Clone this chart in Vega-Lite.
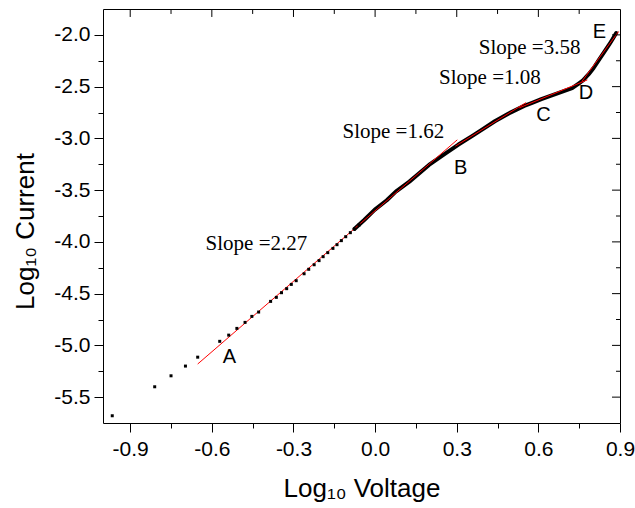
{
  "$schema": "https://vega.github.io/schema/vega-lite/v6.json",
  "width": 517,
  "height": 414,
  "autosize": {"type": "none"},
  "padding": {"left": 103, "top": 9, "right": 15, "bottom": 85},
  "background": "white",
  "config": {
    "view": {"stroke": "black", "strokeWidth": 1},
    "axis": {
      "domain": false,
      "grid": false,
      "labelFont": "Liberation Sans",
      "labelFontSize": 21,
      "labelColor": "black",
      "titleFont": "Liberation Sans",
      "titleFontSize": 26,
      "titleFontWeight": "normal",
      "titleColor": "black",
      "tickColor": "black",
      "tickWidth": 1
    }
  },
  "datasets": {
    "pts": [
      {"v": -0.966, "c": -5.680}, {"v": -0.810, "c": -5.400}, {"v": -0.750, "c": -5.294},
      {"v": -0.697, "c": -5.200}, {"v": -0.652, "c": -5.114}, {"v": -0.571, "c": -4.961},
      {"v": -0.538, "c": -4.901}, {"v": -0.508, "c": -4.836}, {"v": -0.478, "c": -4.778},
      {"v": -0.453, "c": -4.720}, {"v": -0.428, "c": -4.678}, {"v": -0.384, "c": -4.575},
      {"v": -0.363, "c": -4.536}, {"v": -0.344, "c": -4.491}, {"v": -0.325, "c": -4.452},
      {"v": -0.308, "c": -4.411}, {"v": -0.290, "c": -4.375}, {"v": -0.261, "c": -4.308},
      {"v": -0.244, "c": -4.265}, {"v": -0.224, "c": -4.221}, {"v": -0.206, "c": -4.181},
      {"v": -0.191, "c": -4.143}, {"v": -0.174, "c": -4.104}, {"v": -0.155, "c": -4.063},
      {"v": -0.140, "c": -4.027}, {"v": -0.124, "c": -3.988}, {"v": -0.108, "c": -3.950},
      {"v": -0.091, "c": -3.911}, {"v": -0.076, "c": -3.875}, {"v": -0.059, "c": -3.837}
    ],
    "curve": [
      {"v": -0.076, "c": -3.875},
      {"v": -0.040, "c": -3.789}, {"v": -0.002, "c": -3.691}, {"v": 0.043, "c": -3.598},
      {"v": 0.076, "c": -3.515}, {"v": 0.126, "c": -3.418}, {"v": 0.198, "c": -3.257},
      {"v": 0.259, "c": -3.145}, {"v": 0.305, "c": -3.062}, {"v": 0.356, "c": -2.978},
      {"v": 0.393, "c": -2.915}, {"v": 0.440, "c": -2.835}, {"v": 0.491, "c": -2.759},
      {"v": 0.548, "c": -2.686}, {"v": 0.577, "c": -2.657}, {"v": 0.611, "c": -2.621},
      {"v": 0.665, "c": -2.570}, {"v": 0.724, "c": -2.515}, {"v": 0.748, "c": -2.470},
      {"v": 0.764, "c": -2.440}, {"v": 0.785, "c": -2.380}, {"v": 0.803, "c": -2.320},
      {"v": 0.822, "c": -2.245}, {"v": 0.846, "c": -2.149}, {"v": 0.860, "c": -2.095},
      {"v": 0.873, "c": -2.040}, {"v": 0.886, "c": -1.982}
    ],
    "fits": [
      {"seg": "AB", "v": -0.652, "c": -5.180}, {"seg": "AB", "v": 0.302, "c": -3.014},
      {"seg": "BC", "v": 0.295, "c": -3.075}, {"seg": "BC", "v": 0.555, "c": -2.654},
      {"seg": "CD", "v": 0.530, "c": -2.705}, {"seg": "CD", "v": 0.780, "c": -2.435},
      {"seg": "DE", "v": 0.760, "c": -2.450}, {"seg": "DE", "v": 0.895, "c": -1.967}
    ],
    "slopes": [
      {"t": "Slope =2.27", "v": -0.623, "c": -4.077},
      {"t": "Slope =1.62", "v": -0.120, "c": -3.000},
      {"t": "Slope =1.08", "v": 0.235, "c": -2.475},
      {"t": "Slope =3.58", "v": 0.381, "c": -2.184}
    ],
    "letters": [
      {"t": "A", "v": -0.560, "c": -5.170},
      {"t": "B", "v": 0.290, "c": -3.343},
      {"t": "C", "v": 0.592, "c": -2.830},
      {"t": "D", "v": 0.748, "c": -2.624},
      {"t": "E", "v": 0.800, "c": -2.026}
    ],
    "xticks": [
      {"v": -0.9, "k": "major"}, {"v": -0.75, "k": "minor"}, {"v": -0.6, "k": "major"},
      {"v": -0.45, "k": "minor"}, {"v": -0.3, "k": "major"}, {"v": -0.15, "k": "minor"},
      {"v": 0.0, "k": "major"}, {"v": 0.15, "k": "minor"}, {"v": 0.3, "k": "major"},
      {"v": 0.45, "k": "minor"}, {"v": 0.6, "k": "major"}, {"v": 0.75, "k": "minor"}
    ],
    "yticks": [
      {"c": -2.0, "k": "major"}, {"c": -2.25, "k": "minor"}, {"c": -2.5, "k": "major"},
      {"c": -2.75, "k": "minor"}, {"c": -3.0, "k": "major"}, {"c": -3.25, "k": "minor"},
      {"c": -3.5, "k": "major"}, {"c": -3.75, "k": "minor"}, {"c": -4.0, "k": "major"},
      {"c": -4.25, "k": "minor"}, {"c": -4.5, "k": "major"}, {"c": -4.75, "k": "minor"},
      {"c": -5.0, "k": "major"}, {"c": -5.25, "k": "minor"}, {"c": -5.5, "k": "major"}
    ]
  },
  "layer": [
    {
      "data": {"name": "curve"},
      "mark": {"type": "line", "color": "black", "strokeWidth": 4, "strokeCap": "round", "strokeJoin": "round"},
      "encoding": {
        "x": {
          "field": "v", "type": "quantitative",
          "scale": {"domain": [-1.0, 0.9], "nice": false, "zero": false},
          "axis": {
            "orient": "bottom",
            "values": [-0.9, -0.75, -0.6, -0.45, -0.3, -0.15, 0, 0.15, 0.3, 0.45, 0.6, 0.75, 0.9],
            "tickSize": {"condition": {"test": "abs(datum.value/0.3 - round(datum.value/0.3)) < 0.01", "value": 9}, "value": 5},
            "labelExpr": "abs(datum.value/0.3 - round(datum.value/0.3)) < 0.01 ? replace(format(datum.value, '.1f'), '\u2212', '-') : ''",
            "labelPadding": 6,
            "labelFlush": false,
            "labelOverlap": false,
            "title": "Log₁₀ Voltage",
            "titleY": 73,
            "titleBaseline": "alphabetic"
          }
        },
        "y": {
          "field": "c", "type": "quantitative",
          "scale": {"domain": [-5.75, -1.75], "nice": false, "zero": false},
          "axis": {
            "orient": "left",
            "values": [-2, -2.25, -2.5, -2.75, -3, -3.25, -3.5, -3.75, -4, -4.25, -4.5, -4.75, -5, -5.25, -5.5],
            "tickSize": {"condition": {"test": "abs(datum.value*2 - round(datum.value*2)) < 0.01", "value": 9}, "value": 5},
            "labelExpr": "abs(datum.value*2 - round(datum.value*2)) < 0.01 ? replace(format(datum.value, '.1f'), '\u2212', '-') : ''",
            "labelPadding": 4,
            "labelFlush": false,
            "labelOverlap": false,
            "title": "Log₁₀ Current",
            "titleX": -70,
            "titleY": 222,
            "titleBaseline": "alphabetic",
            "titleAngle": -90
          }
        }
      }
    },
    {
      "data": {"name": "fits"},
      "mark": {"type": "line", "color": "#ff0000", "strokeWidth": 1},
      "encoding": {
        "x": {"field": "v", "type": "quantitative", "scale": {"domain": [-1.0, 0.9], "nice": false, "zero": false}, "axis": null},
        "y": {"field": "c", "type": "quantitative", "scale": {"domain": [-5.75, -1.75], "nice": false, "zero": false}, "axis": null},
        "detail": {"field": "seg", "type": "nominal"}
      }
    },
    {
      "data": {"name": "pts"},
      "mark": {"type": "square", "size": 9, "color": "black", "opacity": 1},
      "encoding": {
        "x": {"field": "v", "type": "quantitative", "scale": {"domain": [-1.0, 0.9], "nice": false, "zero": false}, "axis": null},
        "y": {"field": "c", "type": "quantitative", "scale": {"domain": [-5.75, -1.75], "nice": false, "zero": false}, "axis": null}
      }
    },
    {
      "data": {"name": "xticks"},
      "transform": [{"filter": "datum.k == 'major'"}],
      "mark": {"type": "rule", "color": "black", "strokeWidth": 1},
      "encoding": {
        "x": {"field": "v", "type": "quantitative", "scale": {"domain": [-1.0, 0.9], "nice": false, "zero": false}, "axis": null},
        "y": {"datum": -1.75, "type": "quantitative", "scale": {"domain": [-5.75, -1.75], "nice": false, "zero": false}, "axis": null},
        "y2": {"datum": -1.827}
      }
    },
    {
      "data": {"name": "xticks"},
      "transform": [{"filter": "datum.k == 'minor'"}],
      "mark": {"type": "rule", "color": "black", "strokeWidth": 1},
      "encoding": {
        "x": {"field": "v", "type": "quantitative", "scale": {"domain": [-1.0, 0.9], "nice": false, "zero": false}, "axis": null},
        "y": {"datum": -1.75, "type": "quantitative", "scale": {"domain": [-5.75, -1.75], "nice": false, "zero": false}, "axis": null},
        "y2": {"datum": -1.798}
      }
    },
    {
      "data": {"name": "yticks"},
      "transform": [{"filter": "datum.k == 'major'"}],
      "mark": {"type": "rule", "color": "black", "strokeWidth": 1},
      "encoding": {
        "y": {"field": "c", "type": "quantitative", "scale": {"domain": [-5.75, -1.75], "nice": false, "zero": false}, "axis": null},
        "x": {"datum": 0.9, "type": "quantitative", "scale": {"domain": [-1.0, 0.9], "nice": false, "zero": false}, "axis": null},
        "x2": {"datum": 0.8706}
      }
    },
    {
      "data": {"name": "yticks"},
      "transform": [{"filter": "datum.k == 'minor'"}],
      "mark": {"type": "rule", "color": "black", "strokeWidth": 1},
      "encoding": {
        "y": {"field": "c", "type": "quantitative", "scale": {"domain": [-5.75, -1.75], "nice": false, "zero": false}, "axis": null},
        "x": {"datum": 0.9, "type": "quantitative", "scale": {"domain": [-1.0, 0.9], "nice": false, "zero": false}, "axis": null},
        "x2": {"datum": 0.8853}
      }
    },
    {
      "data": {"name": "slopes"},
      "mark": {"type": "text", "font": "Liberation Serif", "fontSize": 21, "align": "left", "baseline": "alphabetic", "color": "black"},
      "encoding": {
        "x": {"field": "v", "type": "quantitative", "scale": {"domain": [-1.0, 0.9], "nice": false, "zero": false}, "axis": null},
        "y": {"field": "c", "type": "quantitative", "scale": {"domain": [-5.75, -1.75], "nice": false, "zero": false}, "axis": null},
        "text": {"field": "t", "type": "nominal"}
      }
    },
    {
      "data": {"name": "letters"},
      "mark": {"type": "text", "font": "Liberation Sans", "fontSize": 20, "align": "left", "baseline": "alphabetic", "color": "black"},
      "encoding": {
        "x": {"field": "v", "type": "quantitative", "scale": {"domain": [-1.0, 0.9], "nice": false, "zero": false}, "axis": null},
        "y": {"field": "c", "type": "quantitative", "scale": {"domain": [-5.75, -1.75], "nice": false, "zero": false}, "axis": null},
        "text": {"field": "t", "type": "nominal"}
      }
    }
  ],
  "resolve": {
    "axis": {"x": "independent", "y": "independent"}
  }
}
